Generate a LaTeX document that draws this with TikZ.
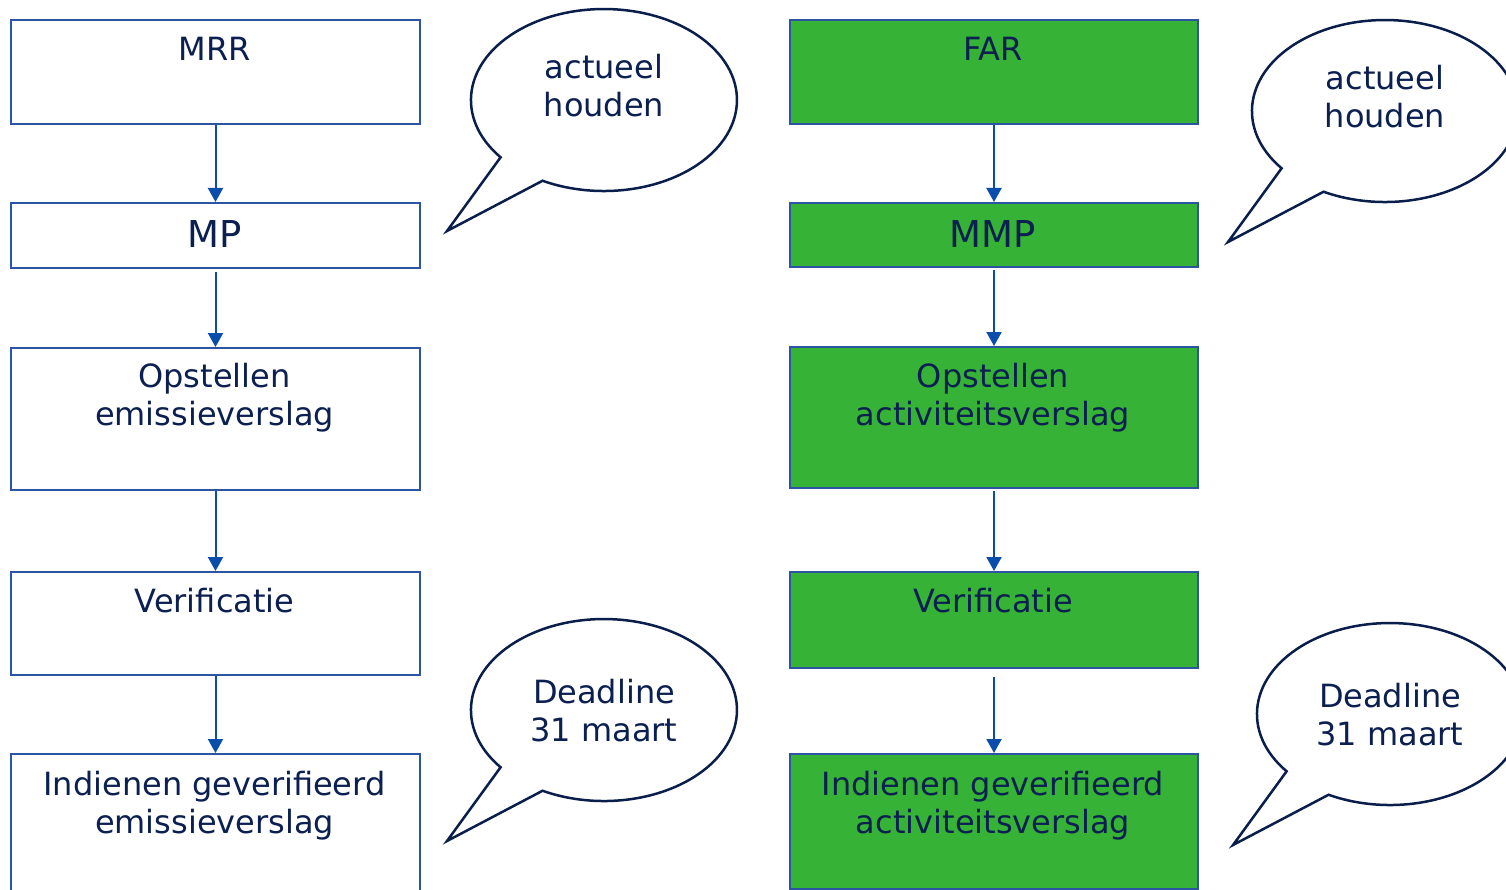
\documentclass[tikz,border=0pt]{standalone}
\usepackage{fontspec}
\setmainfont{DejaVu Sans}
\usetikzlibrary{arrows.meta}
\definecolor{navy}{HTML}{0B1F51}
\definecolor{boxblue}{HTML}{2B55A3}
\definecolor{arrblue}{HTML}{0B4DAA}
\definecolor{bubnavy}{HTML}{0A1E4B}
\definecolor{fargreen}{HTML}{36B236}
\newcommand\topstrut{\rule{0pt}{30pt}}
\tikzset{
  wbox/.style={draw=boxblue, line width=2pt, fill=white, rectangle, inner sep=0pt, anchor=north west},
  gbox/.style={wbox, fill=fargreen},
  lbl/.style={font=\fontsize{32}{39}\selectfont, text=navy, inner sep=0pt, anchor=base},
  lbl2/.style={font=\fontsize{32}{38.5}\selectfont, text=navy, inner sep=0pt, align=center, anchor=north},
  biglbl/.style={font=\fontsize{37}{44}\selectfont, text=navy, inner sep=0pt, anchor=base},
  arr/.style={draw=arrblue, line width=2pt, -{Triangle[width=15pt,length=14pt]}},
  bubble/.pic={
    \filldraw[draw=bubnavy, line width=2.5pt, fill=white]
      (-103.4,57.3) arc[start angle=141, end angle=477.5, x radius=133, y radius=91]
      -- (-157,131) -- cycle;
  }
}
\begin{document}
\begin{tikzpicture}[x=1pt,y=-1pt]
\useasboundingbox (0,0) rectangle (1506,890);
\clip (0,0) rectangle (1506,890);
\fill[white] (0,0) rectangle (1506,890);

% left column
\node[wbox, minimum width=409pt, minimum height=104pt] (mrr) at (10,19) {};
\node[wbox, minimum width=409pt, minimum height=65pt]  (mp)  at (10,202) {};
\node[wbox, minimum width=409pt, minimum height=142pt] (opl) at (10,347) {};
\node[wbox, minimum width=409pt, minimum height=103pt] (verl) at (10,571) {};
\node[wbox, minimum width=409pt, minimum height=170pt] (indl) at (10,753) {};

% right column
\node[gbox, minimum width=408pt, minimum height=104pt] (far) at (789,19) {};
\node[gbox, minimum width=408pt, minimum height=64pt]  (mmp) at (789,202) {};
\node[gbox, minimum width=408pt, minimum height=141pt] (opr) at (789,346) {};
\node[gbox, minimum width=408pt, minimum height=96pt]  (verr) at (789,571) {};
\node[gbox, minimum width=408pt, minimum height=135pt] (indr) at (789,753) {};

% labels left
\node[lbl] (t-mrr) at (214.5,61) {MRR};
\node[biglbl] (t-mp) at (214.5,248) {MP};
\node[lbl2] (t-opl) at (214.5,357) {\topstrut Opstellen\\emissieverslag};
\node[lbl] (t-verl) at (214.5,612) {Verificatie};
\node[lbl2] (t-indl) at (214.5,765) {\topstrut Indienen geverifieerd\\emissieverslag};

% labels right
\node[lbl] (t-far) at (993,61) {FAR};
\node[biglbl] (t-mmp) at (993,248) {MMP};
\node[lbl2] (t-opr) at (993,357) {\topstrut Opstellen\\activiteitsverslag};
\node[lbl] (t-verr) at (993,612) {Verificatie};
\node[lbl2] (t-indr) at (993,765) {\topstrut Indienen geverifieerd\\activiteitsverslag};

% arrows
\draw[arr] (mrr) -- (mp);
\draw[arr, shorten <=3pt] (mp) -- (opl);
\draw[arr] (opl) -- (verl);
\draw[arr] (verl) -- (indl);
\draw[arr] (far) -- (mmp);
\draw[arr, shorten <=2pt] (mmp) -- (opr);
\draw[arr, shorten <=2pt] (opr) -- (verr);
\draw[arr, shorten <=8pt] (verr) -- (indr);

% bubbles
\pic at (604,100) {bubble};
\pic at (1385,111) {bubble};
\pic at (604,710) {bubble};
\pic at (1390,714) {bubble};
\node[lbl2] (b-act1) at (604,48) {\topstrut actueel\\houden};
\node[lbl2] (b-act2) at (1385,59) {\topstrut actueel\\houden};
\node[lbl2] (b-dl1) at (604,673) {\topstrut Deadline\\31 maart};
\node[lbl2] (b-dl2) at (1390,677) {\topstrut Deadline\\31 maart};
\end{tikzpicture}
\end{document}
